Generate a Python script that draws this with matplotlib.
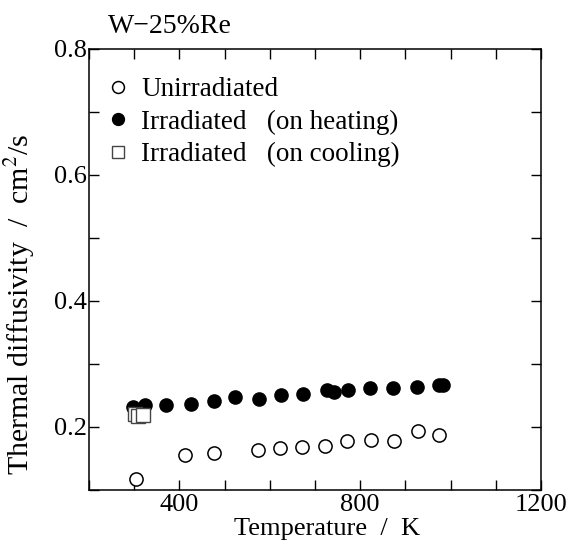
import matplotlib
matplotlib.use("Agg")
import matplotlib.pyplot as plt
from matplotlib.ticker import MultipleLocator

plt.rcParams["font.family"] = ["Liberation Serif", "DejaVu Serif"]
plt.rcParams["mathtext.fontset"] = "stix"

# unirradiated
t_unirr = [305, 413, 476, 574, 623, 672, 722, 772, 823, 874, 927, 974]
d_unirr = [0.117, 0.155, 0.158, 0.163, 0.166, 0.168, 0.170, 0.177, 0.179, 0.178, 0.194, 0.188]

# irradiated, on heating
t_heat = [298, 324, 370, 425, 476, 524, 576, 624, 673, 727, 742, 774, 822, 873, 925, 974, 983]
d_heat = [0.231, 0.235, 0.235, 0.236, 0.241, 0.248, 0.245, 0.251, 0.252, 0.258, 0.256,
          0.258, 0.262, 0.262, 0.264, 0.266, 0.266]

# irradiated, on cooling
t_cool = [303, 309, 319]
d_cool = [0.221, 0.217, 0.219]

fig = plt.figure(figsize=(5.7, 5.42), dpi=100)
ax = fig.add_axes([0.156, 0.096, 0.793, 0.814])

ax.plot(t_unirr, d_unirr, "o", ms=9.5, mfc="white", mec="black", mew=1.1,
        label="Unirradiated")
ax.plot(t_heat, d_heat, "o", ms=9.5, mfc="black", mec="black",
        label="Irradiated   (on heating)")
ax.plot(t_cool, d_cool, "s", ms=10, mfc="white", mec="#444444", mew=1.0,
        label="Irradiated   (on cooling)")

ax.set_xlim(200, 1200)
ax.set_ylim(0.1, 0.8)
ax.set_xticks([400, 800, 1200])
ax.xaxis.set_minor_locator(MultipleLocator(100))
ax.yaxis.set_major_locator(MultipleLocator(0.2))
ax.yaxis.set_minor_locator(MultipleLocator(0.1))
ax.tick_params(which="both", direction="in", top=True, right=True,
               length=7, width=1.0, labelsize=19)
ax.tick_params(axis="x", pad=3)
ax.tick_params(axis="y", pad=1.5)
for s in ax.spines.values():
    s.set_linewidth(1.1)

ax.set_xlabel("Temperature  /  K", fontsize=19)
ax.xaxis.label.set_va("baseline")
ax.xaxis.set_label_coords(0.527, -0.102)
ax.set_ylabel("Thermal diffusivity  /  cm$^2$/s", fontsize=21.5)
ax.yaxis.set_label_coords(-0.115, 0.42)
ax.text(0.042, 1.036, "W\u221225%Re", transform=ax.transAxes, fontsize=20,
        ha="left", va="baseline")

ax.legend(loc="upper left", bbox_to_anchor=(0.041, 0.935), frameon=False,
          fontsize=19.5, handlelength=0.8, handletextpad=0.45, labelspacing=0.27,
          borderaxespad=0, borderpad=0, markerscale=0.9)

fig.savefig("out.png", dpi=100)
